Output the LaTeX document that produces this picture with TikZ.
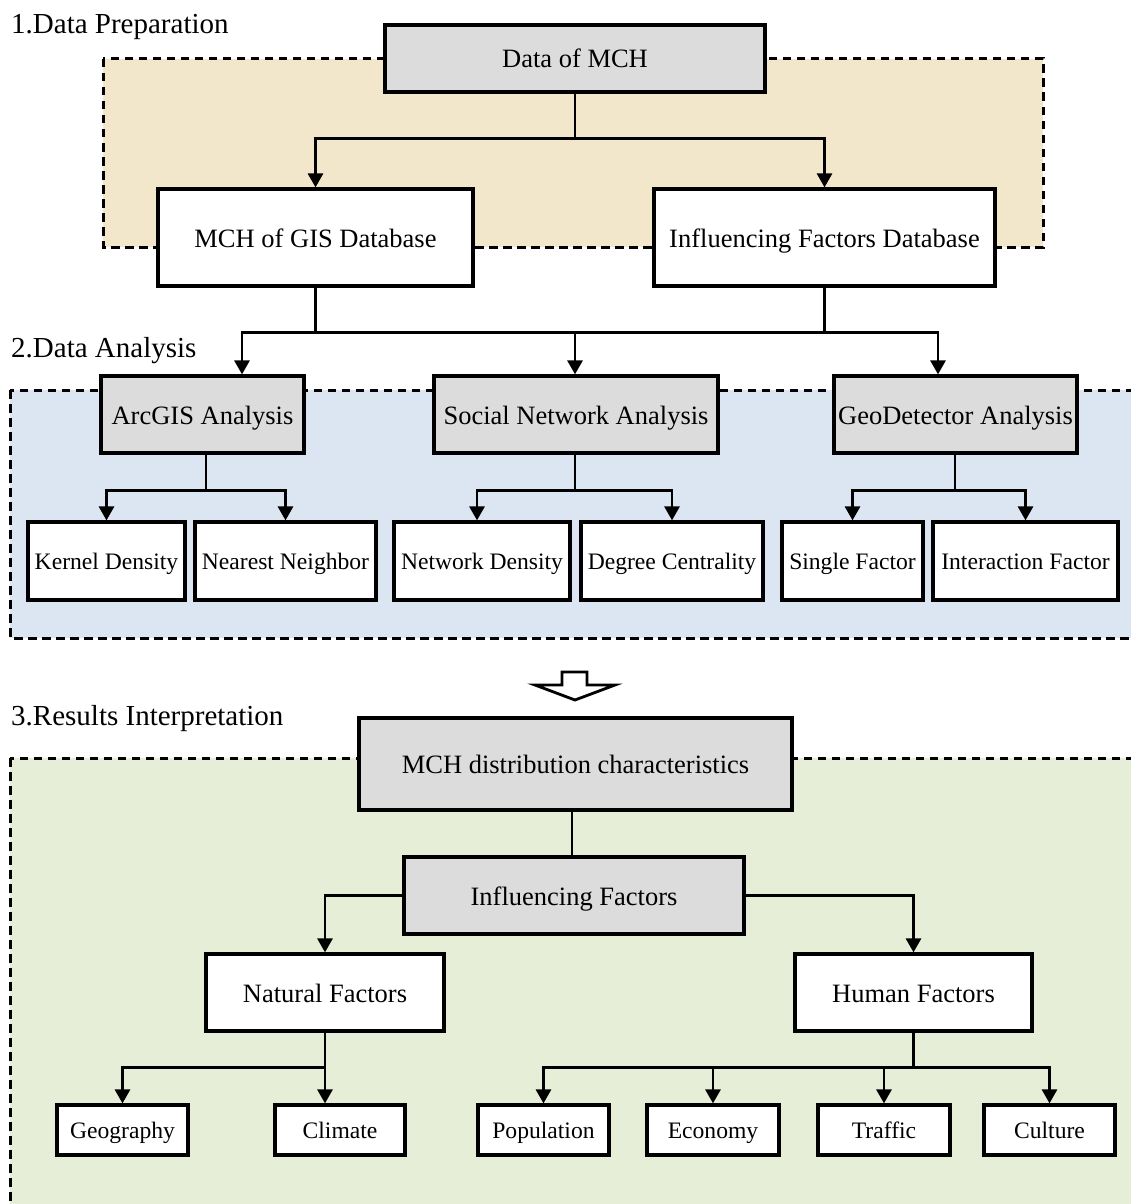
\documentclass[tikz,border=0pt]{standalone}
\usepackage{fontspec}
\setmainfont{Liberation Serif}
\usetikzlibrary{arrows.meta,calc}
\definecolor{tanbg}{RGB}{242,231,202}
\definecolor{bluebg}{RGB}{220,230,242}
\definecolor{greenbg}{RGB}{230,238,216}
\definecolor{boxgray}{RGB}{220,220,220}
\tikzset{
  x=1pt, y=1pt,
  region/.style={line width=3pt, dash pattern=on 8.5pt off 5.5pt},
  box/.style={draw, line width=3.2pt, fill=white, inner sep=0pt, align=center,
    text height=19pt, text depth=0pt,
    font=\fontsize{26.5}{30}\selectfont},
  graybox/.style={box, fill=boxgray},
  smallbox/.style={box, text height=16.5pt, font=\fontsize{23.6}{27}\selectfont},
  title/.style={anchor=base west, inner sep=0pt, font=\fontsize{29}{33}\selectfont},
  conn/.style={line width=2.9pt},
  arr/.style={conn, -{Triangle[width=15pt,length=14pt]}},
}
\begin{document}
\begin{tikzpicture}
\useasboundingbox (0,0) rectangle (1131,-1204);
\clip (0,0) rectangle (1131,-1204);
% regions
\fill[tanbg] (103,-59) rectangle (1043,-247);
\draw[region] (103,-59) rectangle (1043,-247);
\fill[bluebg] (10,-390) rectangle (1150,-638);
\draw[region] (10,-390) rectangle (1150,-638);
\fill[greenbg] (10,-758) rectangle (1150,-1230);
\draw[region] (10,-758) rectangle (1150,-1230);

% titles
\node[title] (t1) at (11,-34) {1.Data Preparation};
\node[title] (t2) at (11,-357) {2.Data Analysis};
\node[title] (t3) at (11,-725) {3.Results Interpretation};

% section 1
\node[graybox, minimum width=380, minimum height=67] (dmch) at (575,-58.5) {Data of MCH};
\node[box, minimum width=315, minimum height=97] (gis) at (315.5,-237.5) {MCH of GIS Database};
\node[box, minimum width=341, minimum height=97] (ifd) at (824.5,-237.5) {Influencing Factors Database};

% section 2
\node[graybox, minimum width=203, minimum height=77] (arc) at (202.5,-414.5) {ArcGIS Analysis};
\node[graybox, minimum width=284, minimum height=77] (sna) at (576,-414.5) {Social Network Analysis};
\node[graybox, minimum width=243, minimum height=77] (geo) at (955.5,-414.5) {GeoDetector Analysis};

\node[smallbox, minimum width=157, minimum height=78] (kd) at (106.5,-561) {Kernel Density};
\node[smallbox, minimum width=181, minimum height=78] (nn) at (285.5,-561) {Nearest Neighbor};
\node[smallbox, minimum width=176, minimum height=78] (nd) at (482,-561) {Network Density};
\node[smallbox, minimum width=182, minimum height=78] (dc) at (672,-561) {Degree Centrality};
\node[smallbox, minimum width=141, minimum height=78] (sf) at (852.5,-561) {Single Factor};
\node[smallbox, minimum width=185, minimum height=78] (itf) at (1025.5,-561) {Interaction Factor};

% section 3
\node[graybox, minimum width=433, minimum height=92] (mdc) at (575.5,-764) {MCH distribution characteristics};
\node[graybox, minimum width=340, minimum height=77] (inf) at (574,-895.5) {Influencing Factors};
\node[box, minimum width=238, minimum height=77] (nf) at (325,-992.5) {Natural Factors};
\node[box, minimum width=237, minimum height=77] (hf) at (913.5,-992.5) {Human Factors};

\node[smallbox, minimum width=131, minimum height=50] (geog) at (122.5,-1130) {Geography};
\node[smallbox, minimum width=130, minimum height=50] (clim) at (340,-1130) {Climate};
\node[smallbox, minimum width=131, minimum height=50] (pop) at (543.5,-1130) {Population};
\node[smallbox, minimum width=132, minimum height=50] (eco) at (713,-1130) {Economy};
\node[smallbox, minimum width=132, minimum height=50] (tra) at (884,-1130) {Traffic};
\node[smallbox, minimum width=131, minimum height=50] (cul) at (1049.5,-1130) {Culture};

% connectors section 1
\draw[conn] (dmch.south) -- ++(0,-45) coordinate (a0);
\draw[arr] (a0) -| (gis.north);
\draw[arr] (a0) -| (ifd.north);

% connectors to section 2
\draw[conn] (gis.south) -- ++(0,-45) coordinate (b1);
\draw[conn] (ifd.south) -- ++(0,-45) coordinate (b2);
\draw[conn] (b1) -- (b2);
\draw[arr] (b1) -| ([xshift=39.5]arc.north);
\draw[arr] (b1) -| ([xshift=-1]sna.north);
\draw[arr] (b2) -| ([xshift=-17.5]geo.north);

% section 2 children
\draw[conn] ([xshift=3.5]arc.south) -- ++(0,-36) coordinate (c1);
\draw[arr] (c1) -| (kd.north);
\draw[arr] (c1) -| (nn.north);
\draw[conn] ([xshift=-1]sna.south) -- ++(0,-36) coordinate (c2);
\draw[arr] (c2) -| ([xshift=-5]nd.north);
\draw[arr] (c2) -| (dc.north);
\draw[conn] ([xshift=-0.5]geo.south) -- ++(0,-36) coordinate (c3);
\draw[arr] (c3) -| (sf.north);
\draw[arr] (c3) -| (itf.north);

% hollow arrow
\draw[line width=2.8pt, fill=white, line join=miter]
  (562,-672) -- (587,-672) -- (587,-685) -- (615,-685) -- (575,-700)
  -- (535,-685) -- (562,-685) -- cycle;

% section 3 connectors
\draw[conn] ([xshift=-3.5]mdc.south) -- ([xshift=-3.5]mdc.south |- inf.north);
\draw[arr] (inf.west) -| (nf.north);
\draw[arr] (inf.east) -| (hf.north);
\draw[conn] (nf.south) -- ++(0,-35) coordinate (n1);
\draw[arr] (n1) -| (geog.north);
\draw[arr] (n1) -- (n1 |- clim.north);
\draw[conn] (hf.south) -- ++(0,-35) coordinate (h1);
\draw[arr] (h1) -| (pop.north);
\draw[arr] (h1) -| (eco.north);
\draw[arr] (h1) -| (tra.north);
\draw[arr] (h1) -| (cul.north);
\end{tikzpicture}
\end{document}
